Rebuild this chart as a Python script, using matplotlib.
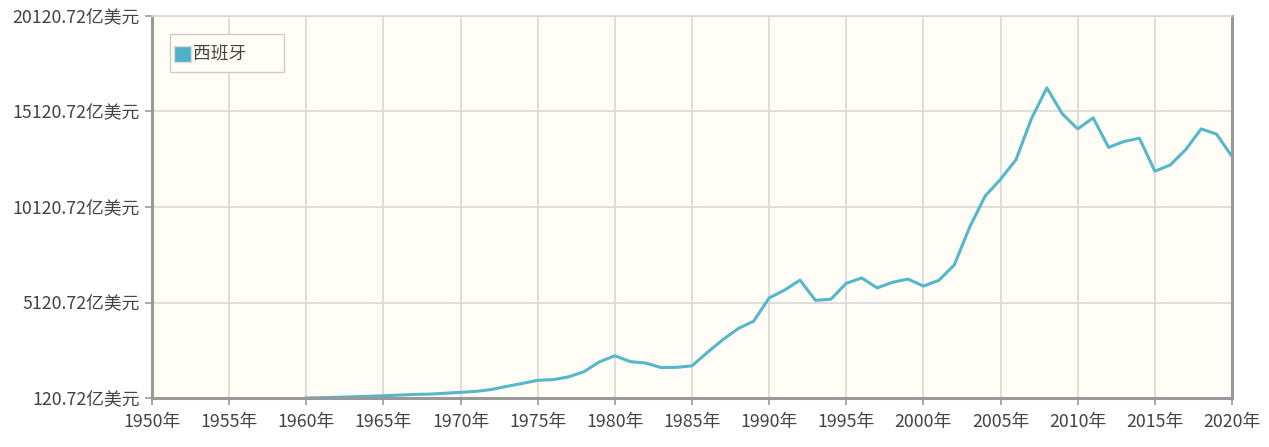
import matplotlib
matplotlib.use('Agg')
import matplotlib.pyplot as plt
from matplotlib.patches import Rectangle

plt.rcParams['font.family'] = ['Noto Sans CJK SC', 'DejaVu Sans']

years = list(range(1960, 2021))
gdp = [120.72, 136.9, 156.9, 183.1, 206.6, 238.7, 272.9, 309.7, 322.7, 371.4,
       414.5, 467.9, 564.4, 730.0, 883.8, 1047.8, 1082.1, 1227.6, 1499.0, 2014.9,
       2331.1, 2025.9, 1950.9, 1712.3, 1725.1, 1804.3, 2509.8, 3176.4, 3759.4, 4143.6,
       5359.0, 5769.9, 6293.5, 5234.5, 5291.3, 6125.5, 6405.6, 5886.4, 6179.8, 6347.5,
       5980.2, 6280.8, 7089.9, 9071.8, 10694.1, 11573.3, 12598.3, 14745.7, 16359.1, 14999.1,
       14209.6, 14789.0, 13243.8, 13550.9, 13719.9, 11995.9, 12321.4, 13122.4, 14210.0, 13936.9,
       12767.5]
xticks = list(range(1950, 2021, 5))
yticks = [120.72, 5120.72, 10120.72, 15120.72, 20120.72]
series_name = '西班牙'

W, H = 1269, 447
fig = plt.figure(figsize=(W / 100, H / 100), dpi=100)
ax = fig.add_axes([152 / W, 1 - 398 / H, (1232 - 152) / W, (398 - 16) / H])
ax.set_facecolor('#fffdf5')

ax.plot(years, gdp, color='#55b7cb', lw=2.2)

ax.set_xlim(1950, 2020)
ax.set_ylim(yticks[0], yticks[-1])
ax.set_xticks(xticks)
ax.set_xticklabels([f'{y}年' for y in xticks])
ax.set_yticks(yticks)
ax.set_yticklabels([f'{v:.2f}亿美元' for v in yticks])
ax.grid(True, color='#d8d8d8', lw=1.2)
ax.tick_params(colors='#999999', labelcolor='#444444', labelsize=12.8, length=5, width=1.2)
ax.tick_params(axis='x', pad=6)
ax.tick_params(axis='y', pad=4)

for s in ['left', 'bottom', 'right']:
    ax.spines[s].set_color('#999999')
    ax.spines[s].set_linewidth(2.2)
ax.spines['top'].set_color('#d8d8d8')
ax.spines['top'].set_linewidth(1.2)

# legend box drawn by hand, as in the original
fig.patches.append(Rectangle((170 / W, 1 - 72 / H), 114 / W, 38 / H, transform=fig.transFigure,
                             facecolor='#fffdf5', edgecolor='#cccccc', lw=1.0, zorder=5))
fig.patches.append(Rectangle((174 / W, 1 - 62 / H), 17 / W, 16 / H, transform=fig.transFigure,
                             facecolor='#4db2c8', edgecolor='#dddddd', lw=1.0, zorder=6))
fig.text(193 / W, 1 - 54 / H, series_name, fontsize=12.8, color='#444444',
         va='center', ha='left', zorder=7)

fig.savefig('out.png', dpi=100)
